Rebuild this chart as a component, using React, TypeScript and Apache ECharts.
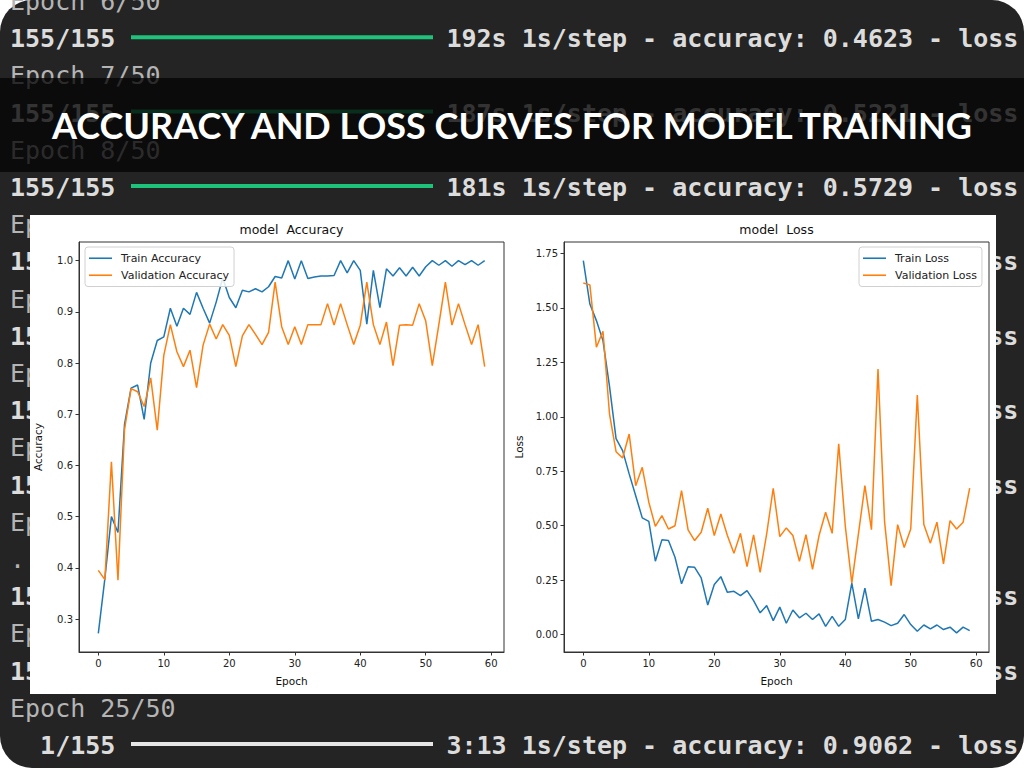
import React, { useEffect, useRef } from "react";
import * as echarts from "echarts";

// ---------------- data ----------------
const epochs: number[] = Array.from({ length: 60 }, (_, i) => i);

const trainAccuracy = [
  0.272, 0.379, 0.5, 0.469, 0.68, 0.751, 0.757, 0.69, 0.8, 0.844,
  0.851, 0.907, 0.872, 0.907, 0.895, 0.938, 0.907, 0.878, 0.919, 0.966,
  0.928, 0.908, 0.942, 0.939, 0.945, 0.939, 0.949, 0.969, 0.966, 1.0,
  0.964, 1.0, 0.965, 0.968, 0.97, 0.97, 0.971, 1.0, 0.976, 1.0,
  0.981, 0.876, 0.981, 0.908, 0.984, 0.97, 0.986, 0.97, 0.987, 0.97,
  0.988, 1.0, 0.991, 1.0, 0.989, 1.0, 0.992, 1.0, 0.991, 1.0,
];
const validationAccuracy = [
  0.395, 0.377, 0.607, 0.376, 0.67, 0.75, 0.744, 0.715, 0.771, 0.669,
  0.815, 0.875, 0.822, 0.793, 0.825, 0.752, 0.835, 0.876, 0.847, 0.875,
  0.854, 0.793, 0.853, 0.875, 0.856, 0.836, 0.86, 0.958, 0.871, 0.836,
  0.871, 0.836, 0.875, 0.875, 0.875, 0.916, 0.874, 0.916, 0.875, 0.836,
  0.874, 0.958, 0.875, 0.836, 0.88, 0.795, 0.874, 0.875, 0.874, 0.916,
  0.882, 0.795, 0.875, 0.958, 0.874, 0.916, 0.875, 0.836, 0.875, 0.793,
];
const trainLoss = [
  1.717, 1.518, 1.442, 1.35, 1.14, 0.9, 0.845, 0.738, 0.638, 0.536,
  0.52, 0.337, 0.435, 0.432, 0.355, 0.233, 0.312, 0.309, 0.26, 0.136,
  0.23, 0.266, 0.194, 0.199, 0.179, 0.202, 0.156, 0.1, 0.133, 0.064,
  0.126, 0.052, 0.113, 0.077, 0.098, 0.069, 0.095, 0.038, 0.084, 0.038,
  0.069, 0.236, 0.072, 0.213, 0.061, 0.069, 0.057, 0.041, 0.052, 0.092,
  0.046, 0.015, 0.044, 0.026, 0.044, 0.023, 0.034, 0.008, 0.034, 0.018,
];
const validationLoss = [
  1.615, 1.606, 1.32, 1.393, 1.013, 0.84, 0.811, 0.921, 0.684, 0.768,
  0.608, 0.497, 0.546, 0.485, 0.5, 0.661, 0.481, 0.432, 0.47, 0.58,
  0.455, 0.554, 0.455, 0.373, 0.465, 0.312, 0.458, 0.286, 0.462, 0.672,
  0.45, 0.49, 0.455, 0.337, 0.459, 0.3, 0.455, 0.562, 0.465, 0.876,
  0.5, 0.236, 0.46, 0.684, 0.482, 1.22, 0.52, 0.225, 0.505, 0.4,
  0.485, 1.1, 0.505, 0.42, 0.516, 0.325, 0.523, 0.485, 0.516, 0.673,
];

const epochTicks = [0, 10, 20, 30, 40, 50, 60];
const accuracyTicks = [0.3, 0.4, 0.5, 0.6, 0.7, 0.8, 0.9, 1.0];
const lossTicks = [0, 0.25, 0.5, 0.75, 1.0, 1.25, 1.5, 1.75];

const pageTitle = "ACCURACY AND LOSS CURVES FOR MODEL TRAINING";

// terminal log rows visible behind the chart (row index, kind, texts, right text column)
type TermRow = { row: number; kind: "epoch" | "bar" | "frag"; left: string; right?: string; rightCol?: number };
const terminalRows: TermRow[] = [
  { row: 0, kind: "epoch", left: "Epoch 6/50" },
  { row: 1, kind: "bar", left: "155/155", right: "192s 1s/step - accuracy: 0.4623 - loss", rightCol: 29 },
  { row: 2, kind: "epoch", left: "Epoch 7/50" },
  { row: 3, kind: "bar", left: "155/155", right: "187s 1s/step - accuracy: 0.5221 - loss", rightCol: 29 },
  { row: 4, kind: "epoch", left: "Epoch 8/50" },
  { row: 5, kind: "bar", left: "155/155", right: "181s 1s/step - accuracy: 0.5729 - loss", rightCol: 29 },
  { row: 6, kind: "frag", left: "Ep" },
  { row: 7, kind: "frag", left: "15", right: "ss", rightCol: 65 },
  { row: 8, kind: "frag", left: "Ep" },
  { row: 9, kind: "frag", left: "15", right: "ss", rightCol: 65 },
  { row: 10, kind: "frag", left: "Ep" },
  { row: 11, kind: "frag", left: "15", right: "ss", rightCol: 65 },
  { row: 12, kind: "frag", left: "Ep" },
  { row: 13, kind: "frag", left: "15", right: "ss", rightCol: 65 },
  { row: 14, kind: "frag", left: "Ep" },
  { row: 15, kind: "frag", left: "." },
  { row: 16, kind: "frag", left: "15", right: "ss", rightCol: 65 },
  { row: 17, kind: "frag", left: "Ep" },
  { row: 18, kind: "frag", left: "15", right: "ss", rightCol: 65 },
  { row: 19, kind: "epoch", left: "Epoch 25/50" },
  { row: 20, kind: "bar", left: "  1/155", right: "3:13 1s/step - accuracy: 0.9062 - loss", rightCol: 29 },
];

const BLUE = "#1f77b4";
const ORANGE = "#ff7f0e";

function buildTerminal(): any[] {
  const els: any[] = [];
  const charW = 15.05;
  const rowY = (r: number) => 1.5 + 37.2 * r;
  terminalRows.forEach((tr) => {
    const y = rowY(tr.row);
    const bright = tr.kind === "bar" || tr.left === "15";
    els.push({
      type: "text",
      z: 1,
      x: 10,
      y,
      style: {
        text: tr.left,
        fill: bright ? "#dcdcdc" : "#b4b4b4",
        font: `${bright ? "bold " : ""}25px "DejaVu Sans Mono", monospace`,
        textVerticalAlign: "middle",
        textAlign: "left",
      },
    });
    if (tr.kind === "bar") {
      const last = tr.row === 20;
      els.push({
        type: "rect",
        z: 1,
        shape: { x: 131, y: y - 3.5, width: 302, height: 4 },
        style: { fill: last ? "#e6e6e6" : "#1fc27a" },
      });
    }
    if (tr.right) {
      els.push({
        type: "text",
        z: 1,
        x: 10 + (tr.rightCol || 0) * charW,
        y,
        style: {
          text: tr.right,
          fill: "#dcdcdc",
          font: `bold 25px "DejaVu Sans Mono", monospace`,
          textVerticalAlign: "middle",
          textAlign: "left",
        },
      });
    }
  });
  return els;
}

export default function App() {
  const ref = useRef<HTMLDivElement>(null);
  useEffect(() => {
    if (!ref.current) return;
    const chart = echarts.init(ref.current, undefined, { renderer: "svg", width: 1024, height: 768 });

    const axisText = { fontFamily: "DejaVu Sans", fontSize: 10, color: "#222" };
    const tickStyle = { show: true, length: 3.5, inside: false, lineStyle: { color: "#333", width: 1 } };
    const pairs = (vals: number[]) => epochs.map((e, i) => [e, vals[i]]);

    const mkX = (gridIndex: number) => ({
      type: "value",
      gridIndex,
      min: -2.95,
      max: 61.95,
      z: 11,
      name: "Epoch",
      nameLocation: "middle",
      nameGap: 23,
      nameTextStyle: { fontFamily: "DejaVu Sans", fontSize: 10.5, color: "#111" },
      axisLine: { show: true, onZero: false, lineStyle: { color: "#333", width: 1 } },
      axisTick: { ...tickStyle, customValues: epochTicks },
      axisLabel: { ...axisText, margin: 6, customValues: epochTicks, formatter: (v: number) => String(v) },
      splitLine: { show: false },
    });

    const mkLegend = (data: string[], left: number) => ({
      data,
      orient: "vertical",
      left,
      top: 247,
      z: 13,
      icon: "rect",
      itemWidth: 23,
      itemHeight: 1.6,
      itemGap: 4.5,
      padding: [5, 5, 5, 4],
      backgroundColor: "rgba(255,255,255,0.85)",
      borderColor: "#d0d0d0",
      borderWidth: 1,
      borderRadius: 3,
      textStyle: { fontFamily: "DejaVu Sans", fontSize: 11, color: "#222", lineHeight: 12.5, padding: [0, 0, 0, 4] },
    });

    const option: any = {
      animation: false,
      backgroundColor: "transparent",
      graphic: {
        elements: [
          {
            type: "rect",
            z: 0,
            shape: { x: 0, y: 0, width: 1024, height: 768, r: 32 },
            style: { fill: "#242424" },
          },
          ...buildTerminal(),
          {
            type: "rect",
            z: 2,
            shape: { x: 0, y: 78, width: 1024, height: 94 },
            style: { fill: "rgba(4,4,4,0.78)" },
          },
          {
            type: "text",
            z: 3,
            x: 512,
            y: 125,
            style: {
              text: pageTitle,
              fill: "#ffffff",
              font: 'bold 36px "Lato", sans-serif',
              textAlign: "center",
              textVerticalAlign: "middle",
            },
          },
          {
            type: "rect",
            z: 4,
            shape: { x: 30, y: 215, width: 966, height: 479 },
            style: { fill: "#ffffff" },
          },
        ],
      },
      title: [
        {
          text: "model  Accuracy",
          left: 291.5,
          top: 223,
          textAlign: "center",
          padding: 0,
          z: 13,
          textStyle: { fontFamily: "DejaVu Sans", fontSize: 12.5, fontWeight: "normal", color: "#111" },
        },
        {
          text: "model  Loss",
          left: 776.5,
          top: 223,
          textAlign: "center",
          padding: 0,
          z: 13,
          textStyle: { fontFamily: "DejaVu Sans", fontSize: 12.5, fontWeight: "normal", color: "#111" },
        },
      ],
      legend: [
        mkLegend(["Train Accuracy", "Validation Accuracy"], 85),
        mkLegend(["Train Loss", "Validation Loss"], 859),
      ],
      grid: [
        { left: 79, top: 242, width: 425, height: 410, show: true, backgroundColor: "#fff", borderColor: "#333", borderWidth: 1, z: 10 },
        { left: 564, top: 242, width: 425, height: 410, show: true, backgroundColor: "#fff", borderColor: "#333", borderWidth: 1, z: 10 },
      ],
      xAxis: [mkX(0), mkX(1)],
      yAxis: [
        {
          type: "value",
          gridIndex: 0,
          min: 0.2356,
          max: 1.0364,
          z: 11,
          name: "Accuracy",
          nameLocation: "middle",
          nameGap: 36,
          nameTextStyle: { fontFamily: "DejaVu Sans", fontSize: 10.5, color: "#111" },
          axisLine: { show: true, onZero: false, lineStyle: { color: "#333", width: 1 } },
          axisTick: { ...tickStyle, customValues: accuracyTicks },
          axisLabel: { ...axisText, margin: 6, customValues: accuracyTicks, formatter: (v: number) => v.toFixed(1) },
          splitLine: { show: false },
        },
        {
          type: "value",
          gridIndex: 1,
          min: -0.08,
          max: 1.803,
          z: 11,
          name: "Loss",
          nameLocation: "middle",
          nameGap: 40,
          nameTextStyle: { fontFamily: "DejaVu Sans", fontSize: 10.5, color: "#111" },
          axisLine: { show: true, onZero: false, lineStyle: { color: "#333", width: 1 } },
          axisTick: { ...tickStyle, customValues: lossTicks },
          axisLabel: { ...axisText, margin: 6, customValues: lossTicks, formatter: (v: number) => v.toFixed(2) },
          splitLine: { show: false },
        },
      ],
      series: [
        { name: "Train Accuracy", type: "line", xAxisIndex: 0, yAxisIndex: 0, data: pairs(trainAccuracy), symbol: "none", z: 12, color: BLUE, lineStyle: { width: 1.5, color: BLUE } },
        { name: "Validation Accuracy", type: "line", xAxisIndex: 0, yAxisIndex: 0, data: pairs(validationAccuracy), symbol: "none", z: 12, color: ORANGE, lineStyle: { width: 1.5, color: ORANGE } },
        { name: "Train Loss", type: "line", xAxisIndex: 1, yAxisIndex: 1, data: pairs(trainLoss), symbol: "none", z: 12, color: BLUE, lineStyle: { width: 1.5, color: BLUE } },
        { name: "Validation Loss", type: "line", xAxisIndex: 1, yAxisIndex: 1, data: pairs(validationLoss), symbol: "none", z: 12, color: ORANGE, lineStyle: { width: 1.5, color: ORANGE } },
      ],
    };
    chart.setOption(option);
    return () => chart.dispose();
  }, []);
  return <div ref={ref} style={{ position: "absolute", left: 0, top: 0, width: 1024, height: 768 }} />;
}
